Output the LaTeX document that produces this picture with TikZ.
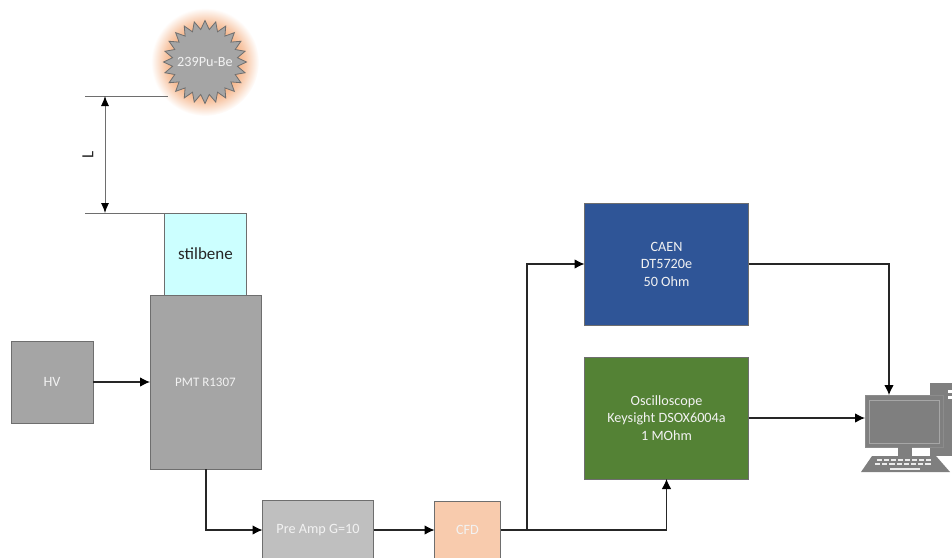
\documentclass[tikz,border=0pt]{standalone}
\usepackage{fontspec}
\setmainfont{Carlito}
\usetikzlibrary{arrows.meta,shapes.geometric,positioning}
\definecolor{edgegray}{HTML}{6E6E6E}
\definecolor{boxgray}{HTML}{A5A5A5}
\definecolor{lightgray2}{HTML}{BFBFBF}
\definecolor{cfdc}{HTML}{F8CBAD}
\definecolor{stil}{HTML}{CCFFFF}
\definecolor{caen}{HTML}{2F5597}
\definecolor{scope}{HTML}{548235}
\definecolor{pcgray}{HTML}{7F7F7F}
\definecolor{pclight}{HTML}{A6A6A6}
\definecolor{txtc}{HTML}{F2F2F2}
\definecolor{glowc}{HTML}{F4B183}
\pgfdeclareradialshading{glowshadeB}{\pgfpoint{0bp}{0bp}}{color(0bp)=(glowc); color(15bp)=(glowc); color(19bp)=(cfdc); color(25bp)=(white); color(50bp)=(white)}
\tikzset{
  every node/.style={font=\fontsize{14.2}{17.5}\selectfont,outer sep=0pt},
  blockbox/.style={draw=edgegray,line width=0.9pt,text=txtc,inner sep=0pt,align=center},
  wire/.style={draw=black!85,line width=1.1pt,-{Latex[length=10pt,width=9.5pt,color=black]}},
  plainwire/.style={draw=black!85,line width=1.1pt},
  guide/.style={draw=edgegray,line width=0.8pt},
  dimline/.style={draw=edgegray,line width=0.9pt,{Latex[length=10pt,width=8pt,color=black]}-{Latex[length=10pt,width=8pt,color=black]}}
}
\begin{document}
\begin{tikzpicture}[x=1pt,y=-1pt]
\useasboundingbox (0,0) rectangle (952,557);
\clip (0,0) rectangle (952,557);
% glow and source
\shade[shading=glowshadeB] (205,62) circle (54);
\coordinate (gTopL) at (85,96);
\coordinate (gBotL) at (85,213);
\coordinate (dimT) at (105,96);
\coordinate (dimB) at (105,213);
\node[star,star points=24,star point ratio=1.27,minimum size=83pt,inner sep=0pt,draw=edgegray,line width=0.8pt,fill=boxgray] (src) at (205,62) {};
\node[text=txtc,inner sep=0pt] (srclabel) at (src.center) {239Pu-Be};
\coordinate (gTopR) at (168,96);
\draw[guide] (gTopL) -- (gTopR);
% blocks
\node[blockbox,fill=stil,text=black!85,minimum width=82pt,minimum height=82pt,font=\fontsize{17}{20}\selectfont] (stb) at (205.5,254) {stilbene};
\draw[guide] (gBotL) -- (stb.north west);
\draw[dimline] (dimT) -- node[pos=0.5,xshift=-17pt,rotate=90,font=\fontsize{17}{20}\selectfont,text=black!85] (lbl) {L} (dimB);
\node[blockbox,fill=boxgray,minimum width=111pt,minimum height=174pt,font=\fontsize{13}{16}\selectfont] (pmt) at (205.5,382) {PMT R1307};
\node[blockbox,fill=boxgray,minimum width=82pt,minimum height=82pt] (hv) at (52,382) {HV};
\node[blockbox,fill=lightgray2,minimum width=111pt,minimum height=60pt] (pre) at (318,530) {Pre Amp G=10};
\node[blockbox,fill=cfdc,minimum width=66pt,minimum height=58pt] (cfd) at (467.5,530) {CFD};
\node[blockbox,fill=caen,minimum width=164pt,minimum height=122pt] (cn) at (666.5,264) {CAEN\\DT5720e\\50 Ohm};
\node[blockbox,fill=scope,minimum width=164pt,minimum height=122pt] (osc) at (666.5,418) {Oscilloscope\\Keysight DSOX6004a\\1 MOhm};
% computer
\fill[pcgray] (930,383) rectangle (952,456);
\fill[white] (948,390) rectangle (952,393);
\fill[white] (948,396) rectangle (952,399);
\node[draw=pcgray!90!white,fill=pcgray,line width=0.8pt,minimum width=78pt,minimum height=52pt,inner sep=0pt] (mon) at (904,421) {};
\node[draw=pclight,fill=pcgray,line width=0.9pt,minimum width=70pt,minimum height=43pt,inner sep=0pt] (scr) at (904.5,421.5) {};
\fill[pcgray] (898,447) rectangle (912,456);
\fill[pcgray] (872,456) -- (936,456) -- (950,472) -- (861,472) -- cycle;
\foreach \i in {0,...,7}{
  \fill[white!85!gray] ({877+\i*7.0},459) rectangle +(5,1.8);
  \fill[white!85!gray] ({875+\i*7.2},463) rectangle +(5.2,1.8);
}
\fill[white!85!gray] (890,467.5) rectangle (920,469.5);
% wires
\draw[wire] (hv.east) -- (pmt.west |- hv.east);
\coordinate (pmtOut) at (206,469);
\draw[wire] (pmtOut) |- (pre.west);
\draw[wire] (pre.east) -- (cfd.west);
\coordinate (split) at (527,530);
\draw[plainwire] (cfd.east) -- (split);
\draw[wire] (split) |- (cn.west);
\draw[wire] (split) -| (osc.south);
\coordinate (pcTop) at (889,395);
\draw[wire] (cn.east) -| (pcTop);
\draw[wire] (osc.east) -- (mon.west |- osc.east);
\end{tikzpicture}
\end{document}
